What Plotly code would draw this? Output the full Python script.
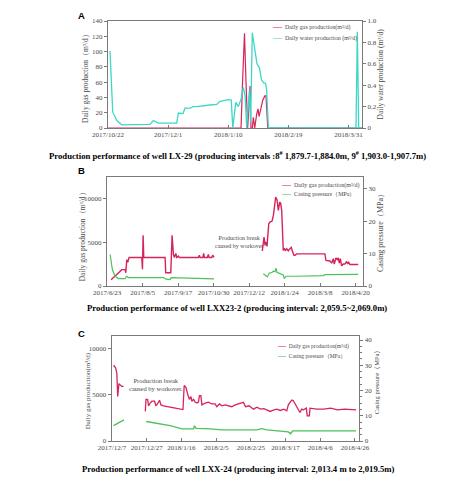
import plotly.graph_objects as go
import pandas as pd

W, H = 474, 480


def px(x):
    return x / W


def py(y):
    return 1 - y / H


RED = "#d6245a"
CYAN = "#3dd8c5"
GREEN = "#4cc25a"
AX = "#7a7a7a"
TXT = "#4a4a4a"
SERIF = "Liberation Serif, Times New Roman, serif"
SANS = "Liberation Sans, Arial, sans-serif"

# ---------------- Panel A : well LX-29 ----------------
A_START = "2017-10-22"
a_tick_dates = ["2017-10-22", "2017-12-01", "2018-01-10", "2018-02-19", "2018-03-31"]
a_gas_day = [0, 88.5, 89.5, 90.8, 91.8, 92.9, 93.8, 94.5, 95.1, 96.0, 96.7, 97.6,
             98.9, 99.8, 100.5, 101.6, 102.9, 104.3, 105.1, 106.3, 169]
a_gas = [0, 0, 60, 124, 60, 0, 30, 55, 0, 0, 14, 0,
         18, 25, 15, 27, 36, 42, 42, 0, 0]
a_water_day = [1.3, 3.1, 5.8, 9.1, 27.9, 30.1, 33.3, 45.7, 46.8, 49.9, 51.2, 54.6,
               56.6, 59.0, 67.9, 72.3, 74.5, 80.0, 82.0, 83.0, 85.0, 86.7, 88.5,
               90.0, 91.2, 92.3, 94.0, 94.9, 96.0, 97.8, 99.1, 100.8, 102.1, 103.8,
               104.8, 105.5, 106.7, 165.0, 165.9, 166.8, 169]
a_water = [0.72, 0.15, 0.07, 0.03, 0.033, 0.07, 0.045, 0.045, 0.14, 0.135, 0.185, 0.185,
           0.2, 0.2, 0.215, 0.22, 0.25, 0.265, 0.262, 0.0, 0.24, 0.2, 0.27,
           0.38, 0.3, 0.0, 0.35, 0.05, 0.89, 0.7, 0.6, 0.56, 0.45, 0.42,
           0.42, 0.36, 0.0, 0.0, 0.9, 0.0, 0.0]

# ---------------- Panel B : well LXX23-2 ----------------
B_START = "2017-06-23"
b_tick_dates = ["2017-06-23", "2017-08-05", "2017-09-17", "2017-10-30",
                "2017-12-12", "2018-01-24", "2018-03-08", "2018-04-20"]
b_gas_day = [4.8, 17.8, 21.8, 22.6, 23.8, 25.0, 26.6, 42.0, 42.8, 43.6, 44.4, 70.2,
             71.0, 77.1, 78.7, 80.3, 81.5, 83.2, 84.4, 86.3, 87.5, 90.4, 91.6, 110.5,
             111.7, 112.6, 115.9, 117.0, 117.8, 121.4, 122.6, 123.5, 126.8, 127.9, 128.7,
             129.5,
             160,
             188.0, 189.3, 190.1, 191.3, 192.5, 193.7, 194.5, 195.8, 197.3, 199.8, 201.4,
             203.4, 204.2, 205.8, 207.4, 209.1, 210.3, 211.5, 212.7, 213.4, 214.7, 215.9,
             217.6, 219.5, 221.5, 223.1, 224.3, 226.4, 227.6, 229.7, 263.9, 265.1, 270.0,
             272.0, 274.0, 275.2, 277.2, 278.8, 280.0, 281.3, 282.5, 284.1, 286.1, 288.1,
             290.2, 291.4, 292.6, 294.2, 304.2]
b_gas = [700, 1860, 1860, 1500, 3000, 2700, 3250, 3250, 1900, 5760, 3250, 3250,
         1500, 1500, 5760, 3600, 3250, 3700, 3250, 3400, 3250, 3300, 3250, 3250,
         3500, 3250, 3250, 3700, 3250, 3250, 3600, 3250, 3250, 3500, 3250,
         3250,
         None,
         3980, 5000, 5570, 4620, 5000, 4500, 5200, 7080, 7270, 7390, 8030,
         9800, 10110, 9810, 8600, 9550, 9400, 8600, 6000, 4050, 4300, 4000,
         4240, 4000, 4250, 4400, 4000, 3500, 3500, 3650, 3650, 2920, 2850,
         2600, 3100, 2500, 3200, 3000, 3200, 2600, 3100, 2300, 2500, 2500,
         2800, 2500, 2700, 2450, 2450]
b_press_day = [3.6, 6.4, 9.7, 13.7, 21.8, 23.8, 25.8, 68.2, 71.4, 76.3, 77.5, 104.5,
               124.7, 129.5,
               160,
               189.3, 192.1, 194.1, 196.5, 199.4, 201.4, 203.4, 204.6, 205.8, 209.4,
               213.4, 214.7, 216.7, 229.7, 262.0, 263.9, 304.2]
b_press = [9.7, 5.0, 3.0, 2.3, 2.3, 3.0, 2.6, 2.6, 2.1, 2.0, 2.6, 2.5,
           2.2, 2.2,
           None,
           3.8, 3.3, 2.8, 4.0, 4.1, 4.6, 4.4, 5.5, 4.2, 3.8,
           3.4, 2.3, 3.0, 3.0, 3.2, 3.5, 3.6]

# ---------------- Panel C : well LXX-24 ----------------
C_START = "2017-12-07"
c_tick_dates = ["2017-12-07", "2017-12-27", "2018-01-16", "2018-02-05",
                "2018-02-25", "2018-03-17", "2018-04-06", "2018-04-26"]
c_gas_day = [0.9, 2.1, 2.8, 3.3, 4.0, 4.8, 5.6, 6.7,
             12,
             19.2, 19.6, 20.5, 21.1, 22.0, 23.0, 24.5, 25.3, 26.2, 27.4, 28.2, 29.7,
             35.0, 40.3, 40.9, 41.6, 42.6, 43.7, 44.6, 45.5, 46.0, 47.0, 47.9, 48.9,
             49.8, 50.4, 51.2, 51.8, 53.7, 55.6, 57.5, 59.4, 60.4, 61.9, 63.3, 65.2,
             67.1, 69.0, 71.0, 73.0, 75.7, 77.0, 79.0, 81.5, 83.5, 85.5, 87.5, 89.5,
             91.1, 93.0, 95.0, 97.0, 99.0, 100.7, 101.6, 102.6, 103.6, 104.5, 105.4,
             106.4, 107.4, 108.3, 109.3, 110.3, 112.0, 112.5, 113.7, 114.1, 118.0,
             122.0, 126.0, 130.0, 134.0, 138.0, 140.6]
c_gas = [8200, 7900, 7300, 4800, 6200, 6000, 5900, 5900,
         None,
         3200, 4500, 4500, 3800, 4100, 4300, 4300, 3800, 4000, 4400, 3900, 3800,
         3600, 3400, 3400, 6000, 5800, 5000, 4500, 4800, 4300, 4500, 4200, 4100,
         4200, 4900, 4900, 3900, 4100, 4200, 4000, 4000, 3700, 4000, 3800, 3900,
         3800, 3700, 3900, 4000, 4170, 3700, 3800, 3440, 3650, 3440, 3500, 3330,
         3190, 3330, 3440, 3300, 3440, 3260, 3900, 4170, 4420, 4350, 4060,
         3700, 3260, 3080, 3440, 3370, 3550, 2720, 2720, 3550, 3440,
         3440, 3550, 3370, 3440, 3370, 3370]
c_press_day = [0.9, 6.9,
               12,
               19.7, 27.8, 33.5, 40.3, 47.0, 47.5, 48.5, 56.6, 63.3, 83.4, 86.3, 89.2,
               101.6, 103.0, 104.1, 140.6]
c_press = [6.1, 8.4,
           None,
           7.7, 6.8, 6.1, 4.8, 4.8, 6.0, 5.0, 4.8, 4.4, 4.4, 4.9, 4.4,
           3.6, 2.9, 4.0, 4.0]


def dates(start, days):
    t0 = pd.Timestamp(start)
    return [t0 + pd.Timedelta(days=d) for d in days]


fig = go.Figure()

# Panel A traces
fig.add_trace(go.Scatter(x=dates(A_START, a_water_day), y=a_water, xaxis="x", yaxis="y2",
                         mode="lines", line=dict(color=CYAN, width=1.3), showlegend=False))
fig.add_trace(go.Scatter(x=dates(A_START, a_gas_day), y=a_gas, xaxis="x", yaxis="y",
                         mode="lines", line=dict(color=RED, width=1.2), showlegend=False))
# Panel B traces
fig.add_trace(go.Scatter(x=dates(B_START, b_press_day), y=b_press, xaxis="x2", yaxis="y4",
                         mode="lines", line=dict(color=GREEN, width=1.2), showlegend=False))
fig.add_trace(go.Scatter(x=dates(B_START, b_gas_day), y=b_gas, xaxis="x2", yaxis="y3",
                         mode="lines", line=dict(color=RED, width=1.4), showlegend=False))
# Panel C traces
fig.add_trace(go.Scatter(x=dates(C_START, c_press_day), y=c_press, xaxis="x3", yaxis="y6",
                         mode="lines", line=dict(color=GREEN, width=1.4), showlegend=False))
fig.add_trace(go.Scatter(x=dates(C_START, c_gas_day), y=c_gas, xaxis="x3", yaxis="y5",
                         mode="lines", line=dict(color=RED, width=1.3), showlegend=False))

tickfont = dict(family=SERIF, size=7, color=TXT)


def xax(dom, anchor, rng, tickvals):
    return dict(domain=[px(dom[0]), px(dom[1])], anchor=anchor, type="date", range=rng,
                tickvals=tickvals, tickformat="%Y/%-m/%-d", tickfont=tickfont,
                tickangle=0, automargin=False,
                showline=True, linecolor=AX, linewidth=1, mirror=True,
                ticks="inside", ticklen=3, tickcolor=AX, showgrid=False, zeroline=False)


def yax(dom, anchor, rng, tickvals, ticktext=None, side="left", overlay=None):
    d = dict(anchor=anchor, range=rng, tickvals=tickvals, tickfont=tickfont,
             automargin=False, tickangle=0,
             showline=True, linecolor=AX, linewidth=1, side=side,
             ticks="outside", ticklen=3, tickcolor=AX, showgrid=False, zeroline=False)
    d["ticktext"] = ticktext if ticktext is not None else [str(v) for v in tickvals]
    if overlay:
        d["overlaying"] = overlay
    else:
        d["domain"] = [py(dom[1]), py(dom[0])]
    return d


layout = dict(
    width=W, height=H, autosize=False,
    margin=dict(l=0, r=0, t=0, b=0, autoexpand=False),
    paper_bgcolor="white", plot_bgcolor="white",
    showlegend=False,
    xaxis=xax((108, 362), "y", ["2017-10-21 23:00", "2018-04-09"], a_tick_dates),
    yaxis=yax((21, 128), "x", [0, 140], [0, 20, 40, 60, 80, 100, 120, 140]),
    yaxis2=yax(None, "x", [0, 1.0], [0, 0.2, 0.4, 0.6, 0.8, 1.0],
               ["0", "0.2", "0.4", "0.6", "0.8", "1.0"], side="right", overlay="y"),
    xaxis2=xax((107, 363), "y3", ["2017-06-22 20:00", "2018-04-29"], b_tick_dates),
    yaxis3=yax((177, 286), "x2", [0, 12400], [0, 5000, 10000]),
    yaxis4=yax(None, "x2", [0, 33.6], [0, 10, 20, 30], side="right", overlay="y3"),
    xaxis3=xax((111.7, 359.3), "y5", ["2017-12-06 20:00", "2018-04-28 12:00"], c_tick_dates),
    yaxis5=yax((336, 441), "x3", [0, 11340], [0, 5000, 10000]),
    yaxis6=yax(None, "x3", [0, 41.6], [0, 10, 20, 30, 40], side="right", overlay="y5"),
)
layout["yaxis6"]["minor"] = dict(dtick=2.5, ticks="outside", ticklen=2, tickcolor=AX)
fig.update_layout(**layout)

ann = []


def text(x, y, s, size, family=SERIF, color=TXT, angle=0, xanchor="center", bold=False):
    if bold:
        s = "<b>" + s + "</b>"
    ann.append(dict(x=px(x), y=py(y), xref="paper", yref="paper", text=s, showarrow=False,
                    xanchor=xanchor, yanchor="middle", textangle=angle,
                    font=dict(family=family, size=size, color=color)))


# panel letters
text(81.7, 16, "A", 9.5, family=SANS, color="black", bold=True)
text(81.7, 170.7, "B", 9.5, family=SANS, color="black", bold=True)
text(81.7, 333.3, "C", 9.5, family=SANS, color="black", bold=True)

# captions
CAP = 8.7
text(237, 155, "Production performance of well LX-29 (producing intervals :8<sup>#</sup> 1,879.7-1,884.0m, 9<sup>#</sup> 1,903.0-1,907.7m)",
     CAP, color="black", bold=True)
text(237, 308.3, "Production performance of well LXX23-2 (producing interval: 2,059.5~2,069.0m)",
     CAP, color="black", bold=True)
text(238.8, 469, "Production performance of well LXX-24 (producing interval: 2,013.4 m to 2,019.5m)",
     CAP, color="black", bold=True)

# axis titles
text(85, 77, "Daily gas production（m³/d）", 7.5, angle=-90)
text(380, 74.5, "Daily water production (m³/d)", 7.5, angle=-90)
text(83.3, 235, "Daily gas production（m³/d）", 7.5, angle=-90)
text(381, 231, "Casing pressure（MPa）", 8, angle=-90)
text(88.3, 391, "Daily gas production(m³/d)", 7, angle=-90)
text(376.7, 380.5, "Casing pressure（MPa）", 6.5, angle=-90)


def legend_item(x, y, color, label, size):
    s = ('<span style="color:%s;font-size:%dpx"><b>—</b></span>  %s' % (color, size + 3, label))
    text(x, y, s, size, xanchor="left")


legend_item(270, 26, RED, "Daily gas production(m³/d)", 6)
legend_item(270, 36.7, CYAN, "Daily water production (m³/d)", 6)
legend_item(279, 184, RED, "Daily gas production(m³/d)", 6)
legend_item(279, 193.3, GREEN, "Casing pressure（MPa）", 6)
legend_item(275, 345.7, RED, "Daily gas production(m³/d)", 5.5)
legend_item(275, 355, GREEN, "Casing pressure（MPa）", 5.5)

# notes
text(212.7, 242, "Production break<br>caused by workover", 6, xanchor="left")
text(126.7, 384, "Production break<br>caused by workover.", 6.5, xanchor="left")

fig.update_layout(annotations=ann)
fig.write_html("out.html")
